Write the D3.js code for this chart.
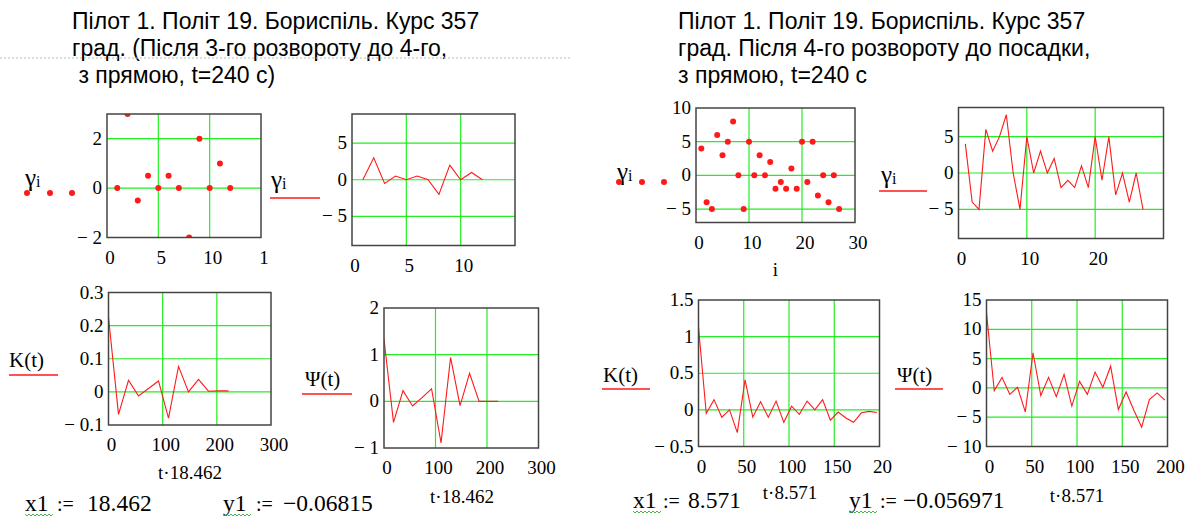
<!DOCTYPE html>
<meta charset='utf-8'>
<title>Пілот 1. Політ 19. Бориспіль</title>
<style>
body {
  margin: 0;
  background-color: #fff;
}
.tick { font-family: "Liberation Serif", "Times New Roman", serif; font-size: 19px; }
.title { font-family: "Liberation Sans", Arial, sans-serif; font-size: 23px; }
.leg { font-family: "Liberation Serif", "Times New Roman", serif; font-size: 21px; }
.expr { font-family: "Liberation Serif", "Times New Roman", serif; font-size: 23.5px; }
</style>
<svg width="1194" height="518"></svg>
<script src="https://d3js.org/d3.v7.min.js"></script>
<script>

// Segment A: after 3rd turn to 4th, gamma_i for i = 1..12
var iA = [1, 2, 3, 4, 5, 6, 7, 8, 9, 10, 11, 12];
var gammaA = [0, 3, -0.5, 0.5, 0, 0.5, 0, -2, 2, 0, 1, 0];

// Segment B: after 4th turn to landing, gamma_i for i = 1..27
var iB = [1, 2, 3, 4, 5, 6, 7, 8, 9, 10, 11, 12, 13, 14, 15, 16, 17, 18, 19, 20, 21, 22, 23, 24, 25, 26, 27];
var gammaB = [4, -4, -5, 6, 3, 5, 8, 0, -5, 5, 0, 3, 0, 2, -2, -1, -2, 1, -2, 5, -1, 5, -3, 0, -4, 0, -5];

// correlation functions K(t), Psi(t) by lag t; plotted against t*x1
var x1A = 18.462, y1A = "\u22120.06815";
var lagA = [0, 1, 2, 3, 4, 5, 6, 7, 8, 9, 10, 11, 12];
var kA = [0.225, -0.068, 0.035, -0.012, 0.01, 0.033, -0.079, 0.077, 0, 0.038, 0.002, 0.003, 0.003];
var psiA = [1.33, -0.45, 0.23, -0.1, 0.08, 0.27, -0.89, 0.94, -0.09, 0.6, 0, 0, 0];

var x1B = 8.571, y1B = "\u22120.056971";
var lagB = [0, 1, 2, 3, 4, 5, 6, 7, 8, 9, 10, 11, 12, 13, 14, 15, 16, 17, 18, 19, 20, 21, 22, 23];
var kB = [1.13, -0.05, 0.14, -0.1, 0, -0.31, 0.41, -0.1, 0.11, -0.1, 0.12, -0.17, 0.05, -0.06,
          0.12, 0, 0.14, -0.14, -0.03, -0.11, -0.17, -0.04, -0.02, -0.035];
var psiB = [12.8, -0.5, 1.8, -1.1, 0.1, -4.1, 6.0, -1.3, 1.8, -1.5, 2.3, -3.1, 1.1, -1.1,
            2.7, 0.1, 3.7, -3.7, -0.7, -3.8, -6.7, -2.0, -0.85, -2.1];

// tick values and labels
var ticksGammaAx = [0, 5, 10, 15], labelsGammaAx = ["0", "5", "10", "1"];
var ticksGammaAy = [-2, 0, 2];
var ticksLineAx = [0, 5, 10];
var ticksGammaY9 = [-5, 0, 5];
var ticksGammaBx = [0, 10, 20, 30];
var ticksGammaBy = [-5, 0, 5, 10];
var ticksLineBx = [0, 10, 20];
var ticksTA = [0, 100, 200, 300];
var ticksKAy = [-0.1, 0, 0.1, 0.2, 0.3];
var ticksPsiAy = [-1, 0, 1, 2];
var ticksTB = [0, 50, 100, 150, 200], labelsTB7 = ["0", "50", "100", "150", "20"];
var ticksKBy = [-0.5, 0, 0.5, 1, 1.5];
var ticksPsiBy = [-10, -5, 0, 5, 10, 15];

var titleA = ["Пілот 1. Політ 19. Бориспіль. Курс 357", "град. (Після 3-го розвороту до 4-го,", " з прямою, t=240 с)"];
var titleB = ["Пілот 1. Політ 19. Бориспіль. Курс 357", "град. Після 4-го розвороту до посадки,", "з прямою, t=240 с"];

var svg = d3.select("svg");

var red = "#ff1a1a", green = "#22ee22", frame = "#444";

function fmt(v) { return v < 0 ? "\u2212 " + Math.abs(v) : String(v); }

function zip(a, b, k) { return a.map(function(v, i) { return [v * (k || 1), b[i]]; }); }

var panels = [
  { box: [107, 114, 261, 237.5], xd: [0, 15], yd: [-2, 3], pts: zip(iA, gammaA), kind: "dot",
    xt: ticksGammaAx, xl: labelsGammaAx, yt: ticksGammaAy },
  { box: [352, 114, 515, 245.5], xd: [0, 15], yd: [-9, 9], pts: zip(iA, gammaA), kind: "line",
    xt: ticksLineAx, yt: ticksGammaY9 },
  { box: [696, 108, 855, 222.5], xd: [0, 30], yd: [-7, 10], pts: zip(iB, gammaB), kind: "dot",
    xt: ticksGammaBx, yt: ticksGammaBy, xname: "i", xnameY: 276 },
  { box: [958.5, 107.5, 1163.5, 238.5], xd: [0, 30], yd: [-9, 9], pts: zip(iB, gammaB), kind: "line",
    xt: ticksLineBx, yt: ticksGammaY9 },
  { box: [108.5, 292.5, 271, 425], xd: [0, 300], yd: [-0.1, 0.3], pts: zip(lagA, kA, x1A), kind: "line",
    xt: ticksTA, yt: ticksKAy, xname: "t\u00b718.462", xnameY: 479, xnameX: 190 },
  { box: [384, 308, 538.5, 448], xd: [0, 300], yd: [-1, 2], pts: zip(lagA, psiA, x1A), kind: "line",
    xt: ticksTA, yt: ticksPsiAy, xname: "t\u00b718.462", xnameY: 503, xnameX: 462 },
  { box: [698.5, 300, 879.5, 446.5], xd: [0, 200], yd: [-0.5, 1.5], pts: zip(lagB, kB, x1B), kind: "line",
    xt: ticksTB, xl: labelsTB7, yt: ticksKBy, xname: "t\u00b78.571", xnameY: 499, xnameX: 790 },
  { box: [986.5, 300, 1167.5, 446.5], xd: [0, 200], yd: [-10, 15], pts: zip(lagB, psiB, x1B), kind: "line",
    xt: ticksTB, yt: ticksPsiBy, xname: "t\u00b78.571", xnameY: 502, xnameX: 1077 }
];

var defs = svg.append("defs");

panels.forEach(function(p, n) {
  var b = p.box;
  var x = d3.scaleLinear().domain(p.xd).range([b[0], b[2]]);
  var y = d3.scaleLinear().domain(p.yd).range([b[3], b[1]]);
  var g = svg.append("g");

  defs.append("clipPath").attr("id", "clip" + n)
    .append("rect").attr("x", b[0]).attr("y", b[1]).attr("width", b[2] - b[0]).attr("height", b[3] - b[1]);

  // green grid on inner ticks
  g.selectAll(".gx").data(p.xt.filter(function(v) { return v > p.xd[0] && v < p.xd[1]; }))
    .enter().append("line")
      .attr("x1", x).attr("x2", x).attr("y1", b[1]).attr("y2", b[3])
      .attr("stroke", green).attr("stroke-width", 1.2);
  g.selectAll(".gy").data(p.yt.filter(function(v) { return v > p.yd[0] && v < p.yd[1]; }))
    .enter().append("line")
      .attr("y1", y).attr("y2", y).attr("x1", b[0]).attr("x2", b[2])
      .attr("stroke", green).attr("stroke-width", 1.2);

  var marks = g.append("g").attr("clip-path", "url(#clip" + n + ")");
  if (p.kind === "dot") {
    marks.selectAll("circle").data(p.pts)
      .enter().append("circle")
        .attr("cx", function(d) { return x(d[0]); })
        .attr("cy", function(d) { return y(d[1]); })
        .attr("r", 3)
        .attr("fill", red);
  } else {
    marks.append("path")
      .attr("d", d3.line().x(function(d) { return x(d[0]); }).y(function(d) { return y(d[1]); })(p.pts))
      .attr("fill", "none")
      .attr("stroke", red)
      .attr("stroke-width", 1.1);
  }

  g.append("rect")
    .attr("x", b[0]).attr("y", b[1]).attr("width", b[2] - b[0]).attr("height", b[3] - b[1])
    .attr("fill", "none").attr("stroke", frame).attr("stroke-width", 1.5);

  g.selectAll(".xl").data(p.xt)
    .enter().append("text")
      .attr("class", "tick")
      .attr("x", function(v) { return x(v) + 3; })
      .attr("y", b[3] + 26)
      .attr("text-anchor", "middle")
      .text(function(v, i) { return p.xl ? p.xl[i] : fmt(v); });

  g.selectAll(".yl").data(p.yt)
    .enter().append("text")
      .attr("class", "tick")
      .attr("x", b[0] - 5)
      .attr("y", function(v) { return y(v) + 6; })
      .attr("text-anchor", "end")
      .text(fmt);

  if (p.xname) {
    g.append("text")
      .attr("class", "tick")
      .attr("x", p.xnameX || (b[0] + b[2]) / 2)
      .attr("y", p.xnameY)
      .attr("text-anchor", "middle")
      .text(p.xname);
  }
});

// legends: trace name with its style sample under / beside it
var legends = [
  { x: 25, y: 186, name: "\u03b3", sub: "i", sample: "dot", sx: [27, 50, 72], sy: 193 },
  { x: 271, y: 188, name: "\u03b3", sub: "i", sample: "line", sx: [270, 320], sy: 198 },
  { x: 617, y: 180, name: "\u03b3", sub: "i", sample: "dot", sx: [619, 642, 664], sy: 182 },
  { x: 881, y: 183, name: "\u03b3", sub: "i", sample: "line", sx: [879, 927], sy: 191 },
  { x: 9, y: 367, name: "K(t)", sample: "line", sx: [9, 58], sy: 375 },
  { x: 305, y: 386, name: "\u03a8(t)", sample: "line", sx: [302, 352], sy: 394 },
  { x: 603, y: 382, name: "K(t)", sample: "line", sx: [602, 650], sy: 389 },
  { x: 897, y: 382, name: "\u03a8(t)", sample: "line", sx: [895, 943], sy: 389 }
];

legends.forEach(function(l) {
  var t = svg.append("text").attr("class", "leg").attr("x", l.x).attr("y", l.y);
  if (l.sub) {
    t.append("tspan").attr("font-size", 25).text(l.name);
    t.append("tspan").attr("font-size", 16).attr("dy", 1).text(l.sub);
  } else {
    t.text(l.name);
  }
  if (l.sample === "dot") {
    svg.selectAll(null).data(l.sx)
      .enter().append("circle")
        .attr("cx", function(d) { return d; }).attr("cy", l.sy).attr("r", 3).attr("fill", red);
  } else {
    svg.append("line")
      .attr("x1", l.sx[0]).attr("x2", l.sx[1]).attr("y1", l.sy).attr("y2", l.sy)
      .attr("stroke", red).attr("stroke-width", 1.3);
  }
});

// titles
[[titleA, 72], [titleB, 678]].forEach(function(t) {
  svg.append("g").selectAll("text").data(t[0])
    .enter().append("text")
      .attr("class", "title")
      .attr("x", t[1])
      .attr("y", function(d, i) { return 29 + i * 27; })
      .attr("xml:space", "preserve")
      .style("white-space", "pre")
      .text(function(d) { return d; });
});

svg.append("line")
  .attr("x1", 0).attr("x2", 570).attr("y1", 58).attr("y2", 58)
  .attr("stroke", "#bbb").attr("stroke-dasharray", "2,2");

// Mathcad definitions x1 := ..., y1 := ...
var defsText = [
  { x: 25, y: 511, name: "x1", val: String(x1A), op: 32, vx: 62 },
  { x: 223, y: 511, name: "y1", val: y1A, op: 33, vx: 60 },
  { x: 633, y: 508, name: "x1", val: String(x1B), op: 30, vx: 55 },
  { x: 849, y: 508, name: "y1", val: y1B, op: 31, vx: 54 }
];

defsText.forEach(function(d) {
  var g = svg.append("g").attr("class", "expr");
  g.append("text").attr("x", d.x).attr("y", d.y).text(d.name);
  g.append("text").attr("x", d.x + d.op).attr("y", d.y).attr("font-size", 20).text(":=");
  g.append("text").attr("x", d.x + d.vx).attr("y", d.y).text(d.val);
  // spell-check squiggle under the variable name
  var pts = [];
  for (var k = 0; k <= 14; k++) pts.push([d.x + k * 2, d.y + 3 + (k % 2 ? 2 : 0)]);
  svg.append("path")
    .attr("d", d3.line()(pts))
    .attr("fill", "none")
    .attr("stroke", "#3a3")
    .attr("stroke-width", 0.9);
});

</script>
